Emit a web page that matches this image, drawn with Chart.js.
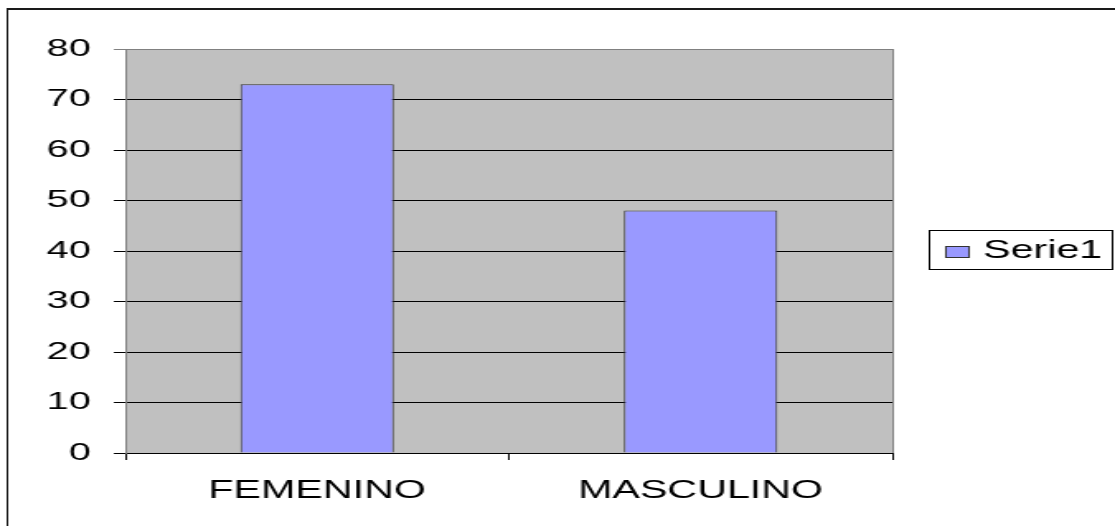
<!DOCTYPE html>
<html>
<head>
<meta charset="utf-8">
<title>Serie1</title>
<script src="https://cdn.jsdelivr.net/npm/chart.js@4"></script>
<style>
  html, body { margin: 0; padding: 0; background: #fff; overflow: hidden; }
  #chart { display: block; }
</style>
</head>
<body>
<!-- canvas is drawn narrow and stretched wide, like the old office chart export -->
<canvas id="chart" width="676" height="526" style="width:1115px;height:526px"></canvas>
<script>
const categories = ["FEMENINO", "MASCULINO"];
const serie1 = [73, 48];
const seriesName = "Serie1";
const yTicks = { min: 0, max: 80, step: 10 };

const fontFamily = "'Liberation Sans', Arial, sans-serif";
const barColor = "#9999FF";

// grey plot background, right edge and the thin page frame
const plotFrame = {
  id: "plotFrame",
  beforeDraw(chart) {
    const { ctx, chartArea: a } = chart;
    ctx.save();
    ctx.fillStyle = "#fff";
    ctx.fillRect(0, 0, chart.width, chart.height);
    ctx.fillStyle = "#C0C0C0";
    ctx.fillRect(a.left, a.top, a.right - a.left, a.bottom - a.top);
    ctx.restore();
  },
  beforeDatasetsDraw(chart) {
    const { ctx, chartArea: a } = chart;
    ctx.save();
    ctx.strokeStyle = "#808080";
    ctx.lineWidth = 1;
    ctx.beginPath();
    ctx.moveTo(Math.round(a.right) + 0.5, a.top);
    ctx.lineTo(Math.round(a.right) + 0.5, a.bottom);
    ctx.stroke();
    ctx.restore();
  },
  afterDraw(chart) {
    const ctx = chart.ctx;
    ctx.save();
    ctx.strokeStyle = "#1a1a1a";
    ctx.lineWidth = 2;
    ctx.beginPath();
    ctx.moveTo(4, 9);
    ctx.lineTo(chart.width, 9);
    ctx.stroke();
    ctx.lineWidth = 1;
    ctx.beginPath();
    ctx.moveTo(4.5, 8);
    ctx.lineTo(4.5, chart.height);
    ctx.stroke();
    ctx.restore();
  }
};

// boxed legend on the right, taken from the dataset
const boxLegend = {
  id: "boxLegend",
  afterDraw(chart) {
    const ctx = chart.ctx;
    const ds = chart.data.datasets[0];
    ctx.save();
    ctx.fillStyle = "#fff";
    ctx.strokeStyle = "#000";
    ctx.lineWidth = 1;
    ctx.fillRect(563.5, 230.5, 111, 39);
    ctx.strokeRect(563.5, 230.5, 111, 39);
    ctx.fillStyle = ds.backgroundColor;
    ctx.fillRect(573.5, 246.5, 14, 11);
    ctx.strokeStyle = "#333";
    ctx.strokeRect(573.5, 246.5, 14, 11);
    ctx.fillStyle = "#000";
    ctx.font = "25px " + fontFamily;
    ctx.textBaseline = "alphabetic";
    ctx.textAlign = "left";
    ctx.fillText(ds.label, 596, 258);
    ctx.restore();
  }
};

new Chart(document.getElementById("chart"), {
  type: "bar",
  data: {
    labels: categories,
    datasets: [{
      label: seriesName,
      data: serie1,
      backgroundColor: barColor,
      borderColor: "#333",
      borderWidth: 1,
      barPercentage: 0.4,
      categoryPercentage: 1.0
    }]
  },
  options: {
    responsive: false,
    devicePixelRatio: 1,
    animation: false,
    layout: { padding: { top: 49, right: 135, left: 0, bottom: 0 } },
    plugins: {
      legend: { display: false },
      tooltip: { enabled: false }
    },
    scales: {
      x: {
        z: 1,
        afterFit: (scale) => { scale.height = 73; },
        grid: { drawOnChartArea: false, color: "#000", tickLength: 7 },
        border: { color: "#000" },
        ticks: { color: "#000", padding: 16, font: { family: fontFamily, size: 25 } }
      },
      y: {
        min: yTicks.min,
        max: yTicks.max,
        afterFit: (scale) => { scale.width = 76; },
        grid: {
          color: (c) => (c.tick && c.tick.value === yTicks.max ? "#808080" : "#000"),
          tickLength: 7
        },
        border: { color: "#808080" },
        ticks: {
          stepSize: yTicks.step,
          color: "#000",
          padding: 14,
          font: { family: fontFamily, size: 24 }
        }
      }
    }
  },
  plugins: [plotFrame, boxLegend]
});
</script>
</body>
</html>
